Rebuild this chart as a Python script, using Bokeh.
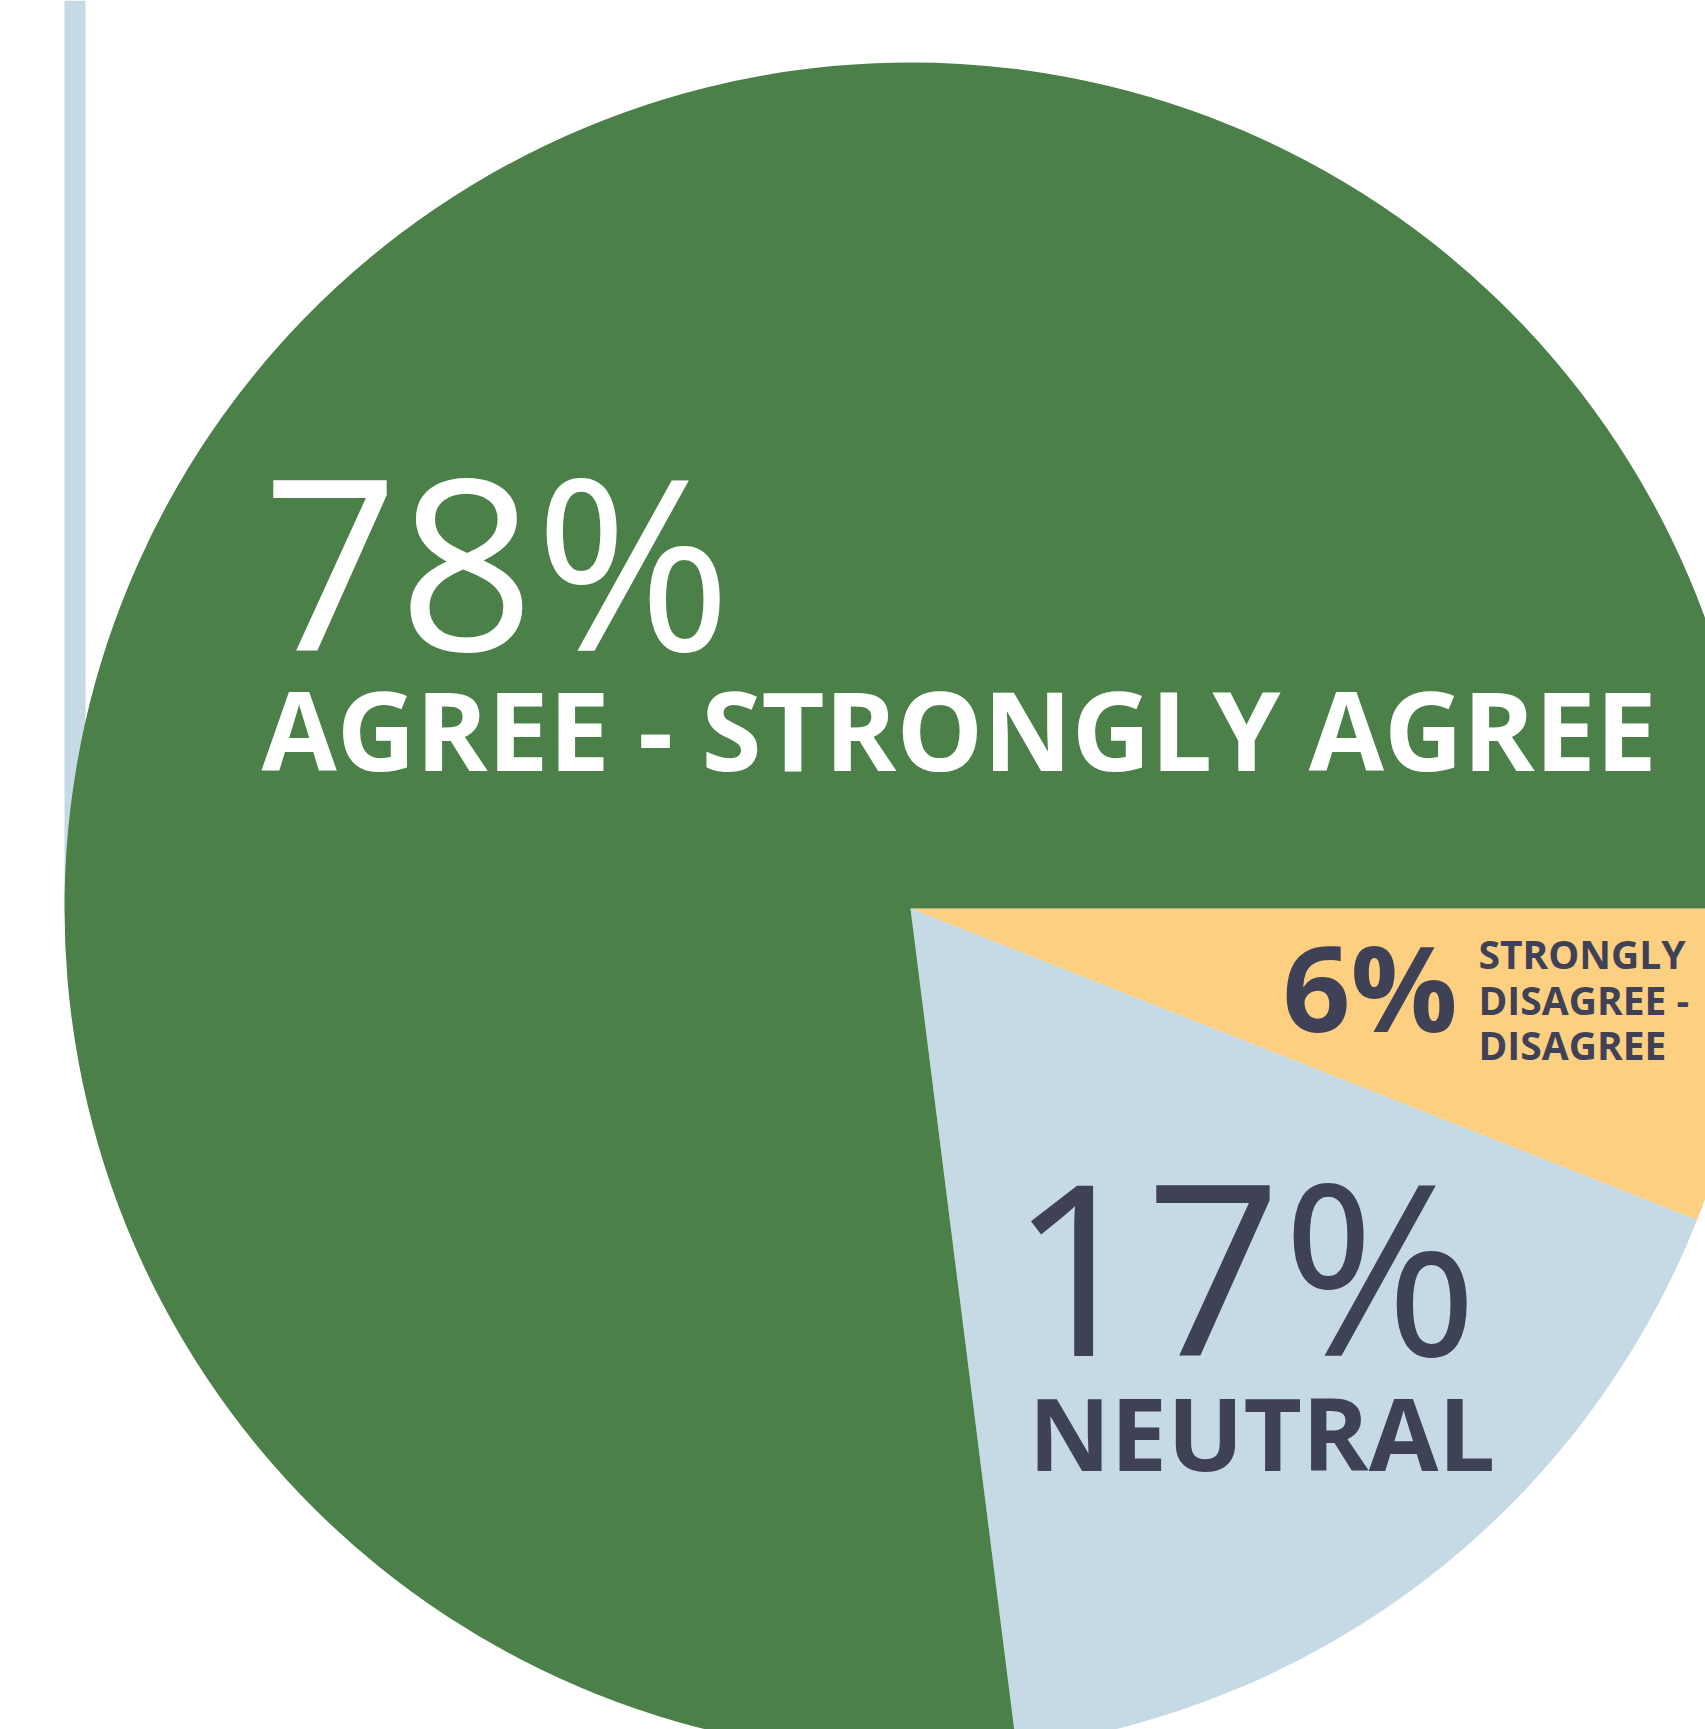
import math
from bokeh.plotting import figure
from bokeh.models import ColumnDataSource, Range1d
from bokeh.core.properties import value
from bokeh.embed import file_html
from bokeh.resources import INLINE

# ---- data ----
categories = ["Strongly disagree - Disagree", "Neutral", "Agree - Strongly agree"]
percent_values = [6, 17, 78]
percent_labels = ["6%", "17%", "78%"]
category_labels = ["STRONGLY\nDISAGREE -\nDISAGREE", "NEUTRAL", "AGREE - STRONGLY AGREE"]
slice_colors = ["#fdcf80", "#c5dae5", "#4b8149"]
text_colors = ["#3f4156", "#3f4156", "#ffffff"]

W, H = 1705, 1729
p = figure(width=W, height=H, output_backend="svg", toolbar_location=None,
           x_range=Range1d(0, W), y_range=Range1d(0, H), min_border=0)
p.axis.visible = False
p.grid.visible = False
p.outline_line_color = None
p.background_fill_color = "white"
p.border_fill_color = "white"

def px(x):
    return x

def py(y):
    return H - y

# thin edge of a neighbouring ring, visible at the left
p.quad(left=[px(64)], right=[px(85)], bottom=[py(900)], top=[H],
       fill_color="#c5dae5", line_color=None)

# ---- pie: slices go clockwise from 3 o'clock, the last one takes the rest ----
cx, cy, r = px(910), py(908), 846
starts, ends = [], []
acc = 0.0
for i, v in enumerate(percent_values):
    a0 = -acc * 3.6
    if i == len(percent_values) - 1:
        a1 = -360.0
    else:
        a1 = -(acc + v) * 3.6
    acc += v
    starts.append(math.radians(a1))
    ends.append(math.radians(a0))

src = ColumnDataSource(dict(cat=categories, start=starts, end=ends, color=slice_colors))
p.wedge(x=cx, y=cy, radius=r, start_angle="start", end_angle="end",
        fill_color="color", line_color=None, direction="anticlock", source=src)

font = value("Open Sans")

def label(x, y, txt, size, color, bold):
    p.text(x=[px(x)], y=[py(y)], text=[txt], text_font=font,
           text_font_style="bold" if bold else "normal",
           text_font_size=value("%dpx" % size), text_color=color,
           text_align="left", text_baseline="alphabetic")

label(262, 558, percent_labels[2], 238, text_colors[2], False)
label(261, 728, category_labels[2], 109, text_colors[2], True)

label(1009, 1263, percent_labels[1], 238, text_colors[1], False)
label(1028, 1431, category_labels[1], 101, text_colors[1], True)

label(1282, 985, percent_labels[0], 119, text_colors[0], True)
for k, ln in enumerate(category_labels[0].split("\n")):
    label(1478, 953 + 45.5 * k, ln, 39, text_colors[0], True)

open("out.html", "w").write(file_html(p, INLINE))
